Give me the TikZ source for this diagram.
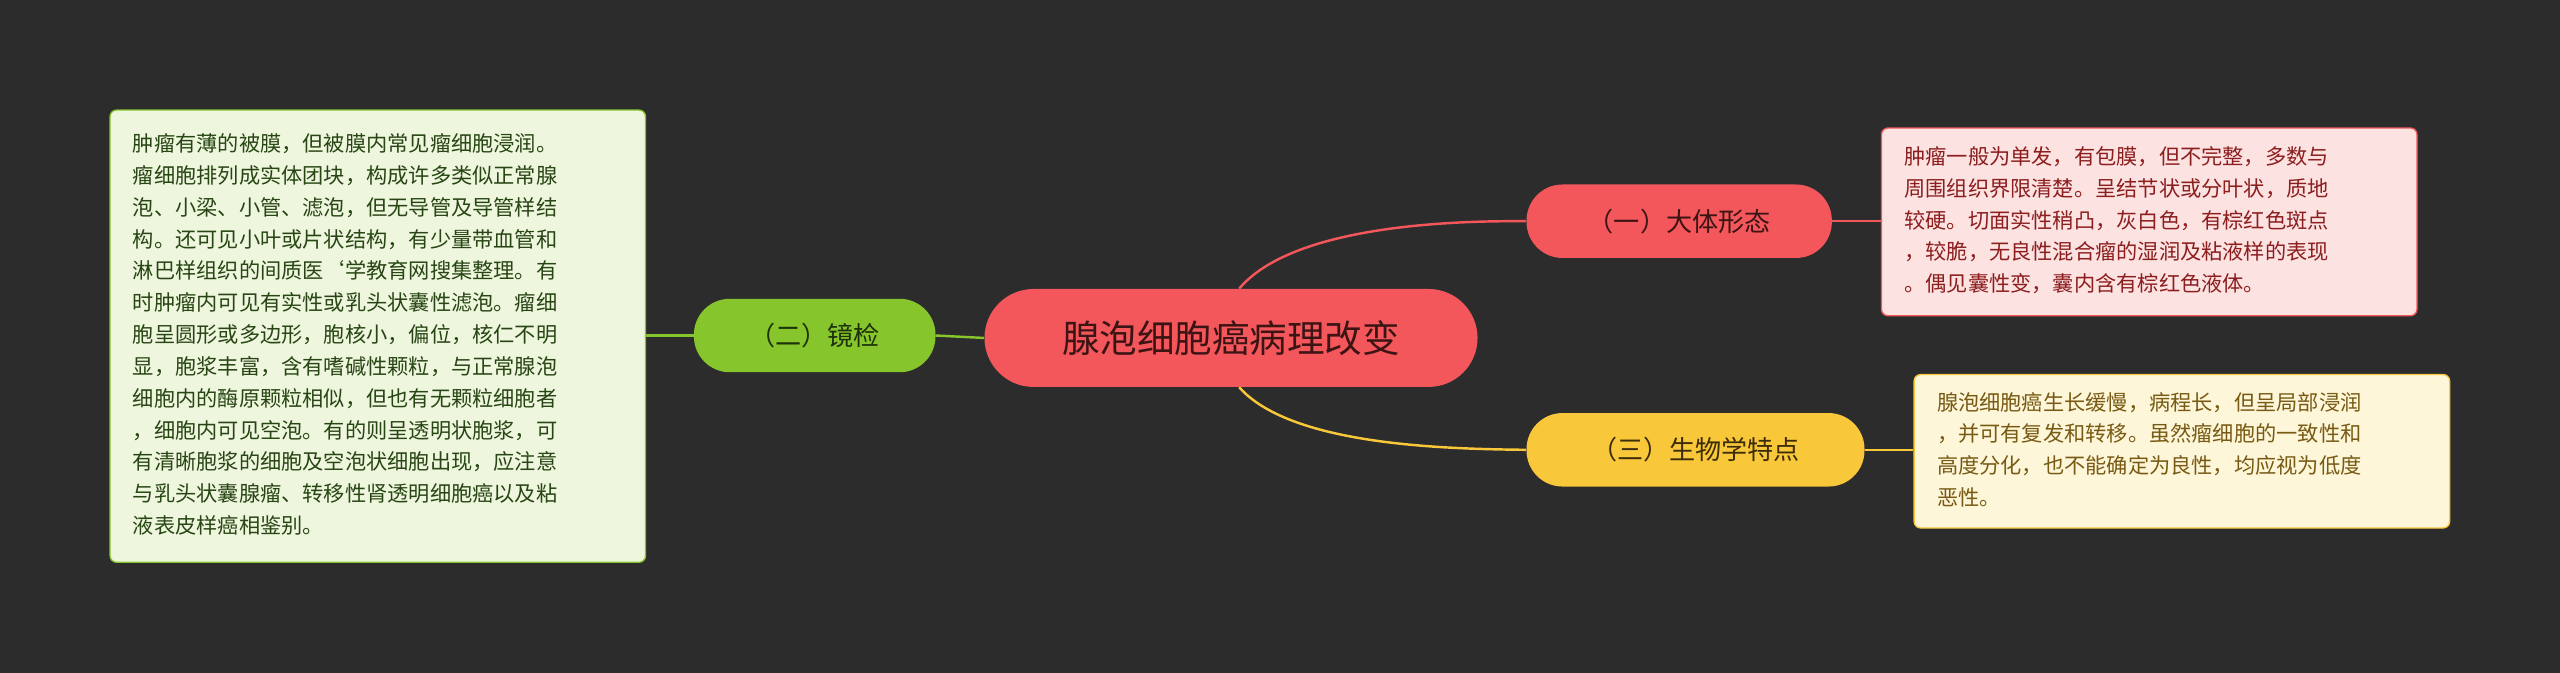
\documentclass[tikz,border=0pt]{standalone}
\usepackage{fontspec}
\setmainfont{Noto Sans CJK SC}
\begin{document}
\begin{tikzpicture}[x=1pt,y=-1pt,
 topic/.style={rounded corners=22pt,minimum height=45pt,inner sep=0pt,font=\fontsize{16}{18}\selectfont},
 box/.style={rounded corners=4pt,draw,line width=0.8pt,inner sep=0pt,minimum width=328pt,text width=314pt,align=left,anchor=north west,font=\fontsize{13}{19.5}\selectfont}]
\fill[fill={rgb,255:red,44;green,44;blue,44}] (0,0) rectangle (1568,412);
\useasboundingbox (0,0) rectangle (1568,412);
\definecolor{rd}{RGB}{243,87,91}
\definecolor{yl}{RGB}{249,199,58}
\definecolor{gn}{RGB}{134,198,44}
\node[topic,fill=rd,minimum width=302pt,minimum height=60pt,rounded corners=30pt,font=\fontsize{23}{26}\selectfont,text={rgb,255:red,60;green,20;blue,20}] (c) at (754,207) {腺泡细胞癌病理改变};
\node[topic,fill=rd,minimum width=187pt,text={rgb,255:red,60;green,20;blue,20}] (a) at (1028.5,135.5) {（一）大体形态};
\node[topic,fill=yl,minimum width=207pt,text={rgb,255:red,60;green,45;blue,10}] (b) at (1038.5,275.5) {（三）生物学特点};
\node[topic,fill=gn,minimum width=148pt,text={rgb,255:red,30;green,50;blue,10}] (g) at (499,205.5) {（二）镜检};
\node[box,draw=rd,fill={rgb,255:red,253;green,226;blue,226},text={rgb,255:red,140;green,30;blue,30},minimum height=115pt] (ta) at (1152,78) {\hspace*{7pt}\begin{minipage}[t]{316pt}\vspace{-2pt}肿瘤一般为单发，有包膜，但不完整，多数与\\周围组织界限清楚。呈结节状或分叶状，质地\\较硬。切面实性稍凸，灰白色，有棕红色斑点\\，较脆，无良性混合瘤的湿润及粘液样的表现\\。偶见囊性变，囊内含有棕红色液体。\end{minipage}};
\node[box,draw=yl,fill={rgb,255:red,253;green,246;blue,216},text={rgb,255:red,120;green,90;blue,20},minimum height=94pt] (tb) at (1172,229) {\hspace*{7pt}\begin{minipage}[t]{316pt}\vspace{-2pt}腺泡细胞癌生长缓慢，病程长，但呈局部浸润\\，并可有复发和转移。虽然瘤细胞的一致性和\\高度分化，也不能确定为良性，均应视为低度\\恶性。\end{minipage}};
\node[box,draw=gn,fill={rgb,255:red,238;green,246;blue,222},text={rgb,255:red,40;green,70;blue,20},minimum height=277pt] (tg) at (67,67) {\hspace*{7pt}\begin{minipage}[t]{316pt}\vspace{-2pt}肿瘤有薄的被膜，但被膜内常见瘤细胞浸润。\\瘤细胞排列成实体团块，构成许多类似正常腺\\泡、小梁、小管、滤泡，但无导管及导管样结\\构。还可见小叶或片状结构，有少量带血管和\\淋巴样组织的间质医`学教育网搜集整理。有\\时肿瘤内可见有实性或乳头状囊性滤泡。瘤细\\胞呈圆形或多边形，胞核小，偏位，核仁不明\\显，胞浆丰富，含有嗜碱性颗粒，与正常腺泡\\细胞内的酶原颗粒相似，但也有无颗粒细胞者\\，细胞内可见空泡。有的则呈透明状胞浆，可\\有清晰胞浆的细胞及空泡状细胞出现，应注意\\与乳头状囊腺瘤、转移性肾透明细胞癌以及粘\\液表皮样癌相鉴别。\end{minipage}};
\draw[rd,line width=1.5pt] (c.north) ++(5,0) .. controls (790,140) and (880,135) .. (a.west);
\draw[yl,line width=1.5pt] (c.south) ++(5,0) .. controls (790,272) and (880,275) .. (b.west);
\draw[gn,line width=1.5pt] (c.west) -- (g.east);
\draw[rd,line width=1.5pt] (a.east) -- (ta.west|-a.east);
\draw[yl,line width=1.5pt] (b.east) -- (tb.west|-b.east);
\draw[gn,line width=1.5pt] (g.west) -- (tg.east|-g.west);
\end{tikzpicture}
\end{document}
